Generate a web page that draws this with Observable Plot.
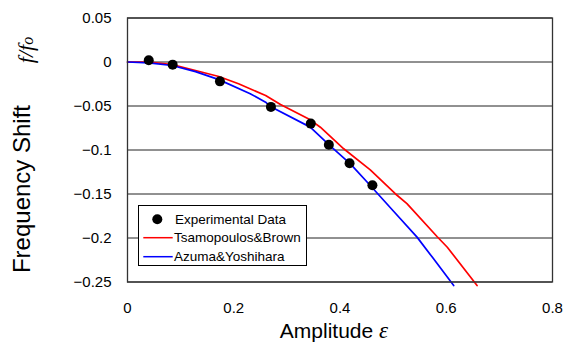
<!DOCTYPE html>
<html><head><meta charset="utf-8">
<script src="https://cdn.jsdelivr.net/npm/d3@7"></script>
<script src="https://cdn.jsdelivr.net/npm/@observablehq/plot@0.6"></script>
<style>body{margin:0;background:#fff;} svg{display:block;}</style>
</head><body><div id="chart"></div>
<script>
// Experimental data
const expX = [0.040, 0.085, 0.174, 0.270, 0.345, 0.379, 0.418, 0.461];
const expY = [0.002, -0.003, -0.022, -0.051, -0.070, -0.094, -0.115, -0.140];
// Tsamopoulos & Brown
const tbX = [0, 0.040, 0.084, 0.128, 0.172, 0.209, 0.260, 0.288, 0.344, 0.363, 0.407, 0.457, 0.504, 0.526, 0.583, 0.602, 0.658];
const tbY = [0, 0, -0.003, -0.0097, -0.0165, -0.0248, -0.038, -0.0483, -0.0657, -0.0741, -0.0986, -0.1225, -0.1497, -0.161, -0.1986, -0.2105, -0.254];
// Azuma & Yoshihara
const ayX = [0, 0.040, 0.084, 0.128, 0.172, 0.231, 0.260, 0.269, 0.344, 0.379, 0.420, 0.457, 0.500, 0.545, 0.574, 0.614];
const ayY = [0, -0.001, -0.004, -0.011, -0.020, -0.036, -0.0457, -0.0506, -0.074, -0.094, -0.116, -0.1403, -0.169, -0.199, -0.222, -0.254];
const xTicks = [0, 0.2, 0.4, 0.6, 0.8];
const yTicks = [0.05, 0, -0.05, -0.1, -0.15, -0.2, -0.25];
const legendLabels = ["Experimental Data", "Tsamopoulos&Brown", "Azuma&Yoshihara"];
const seriesColors = ["#000000", "#ff0000", "#0000ff"];

const exp = expX.map((x, i) => ({x, y: expY[i]}));
const tb = tbX.map((x, i) => ({x, y: tbY[i]}));
const ay = ayX.map((x, i) => ({x, y: ayY[i]}));
const fmt = d => (d < 0 ? "\u2212" : "") + Math.abs(d);

const plot = Plot.plot({
  width: 564, height: 343,
  marginLeft: 127, marginRight: 12, marginTop: 17.5, marginBottom: 61.5,
  style: {fontFamily: "'Liberation Sans', Arial, sans-serif", fontSize: "15px", background: "#fff", color: "#000"},
  x: {domain: [0, 0.8]},
  y: {domain: [-0.25, 0.05]},
  marks: [
    Plot.gridY(yTicks, {stroke: "#222", strokeOpacity: 1, strokeWidth: 1}),
    Plot.line(tb, {x: "x", y: "y", stroke: seriesColors[1], strokeWidth: 1.7}),
    Plot.line(ay, {x: "x", y: "y", stroke: seriesColors[2], strokeWidth: 1.7}),
    Plot.dot(exp, {x: "x", y: "y", r: 5, fill: seriesColors[0], stroke: null}),
    Plot.frame({stroke: "#333", strokeWidth: 1.3}),
    Plot.axisX({ticks: xTicks, tickSize: 0, tickPadding: 20, tickFormat: fmt, fontSize: 15, label: null}),
    Plot.axisY({ticks: yTicks, tickSize: 0, tickPadding: 16, tickFormat: fmt, fontSize: 15, label: null})
  ]
});
document.getElementById("chart").appendChild(plot);

const svg = d3.select(plot);
// x axis title
const xt = svg.append("text").attr("x", 334).attr("y", 338).attr("text-anchor", "middle")
  .attr("font-size", 21).attr("fill", "#000");
xt.append("tspan").text("Amplitude ");
xt.append("tspan").attr("font-family", "'Liberation Serif', 'Times New Roman', serif").attr("font-style", "italic")
  .attr("font-size", 23).text("\u03b5");
// y axis title
svg.append("text").attr("transform", "translate(30,189) rotate(-90)").attr("text-anchor", "middle")
  .attr("font-size", 24).attr("fill", "#000").text("Frequency Shift");
const ft = svg.append("text").attr("transform", "translate(33,50) rotate(-90)").attr("text-anchor", "middle")
  .attr("font-family", "'Liberation Serif', 'Times New Roman', serif").attr("font-style", "italic")
  .attr("font-size", 22).attr("fill", "#000");
ft.append("tspan").text("f/f");
ft.append("tspan").attr("font-size", 16).text("o");

// legend
const lg = svg.append("g").attr("font-size", 13.5).attr("fill", "#000").attr("text-anchor", "start");
lg.append("rect").attr("x", 138.5).attr("y", 205.5).attr("width", 168).attr("height", 60)
  .attr("fill", "#fff").attr("stroke", "#000").attr("stroke-width", 1);
const rowY = [219.3, 237.7, 256.7];
legendLabels.forEach((lab, i) => {
  if (i === 0) {
    lg.append("circle").attr("cx", 157.3).attr("cy", rowY[i]).attr("r", 5).attr("fill", seriesColors[i]);
  } else {
    lg.append("line").attr("x1", 143.3).attr("x2", 172.7).attr("y1", rowY[i]).attr("y2", rowY[i])
      .attr("stroke", seriesColors[i]).attr("stroke-width", 1.5);
  }
  lg.append("text").attr("x", i === 0 ? 175 : 174).attr("y", rowY[i]).attr("dy", "0.35em")
    .attr("text-anchor", "start").text(lab);
});
</script></body></html>
